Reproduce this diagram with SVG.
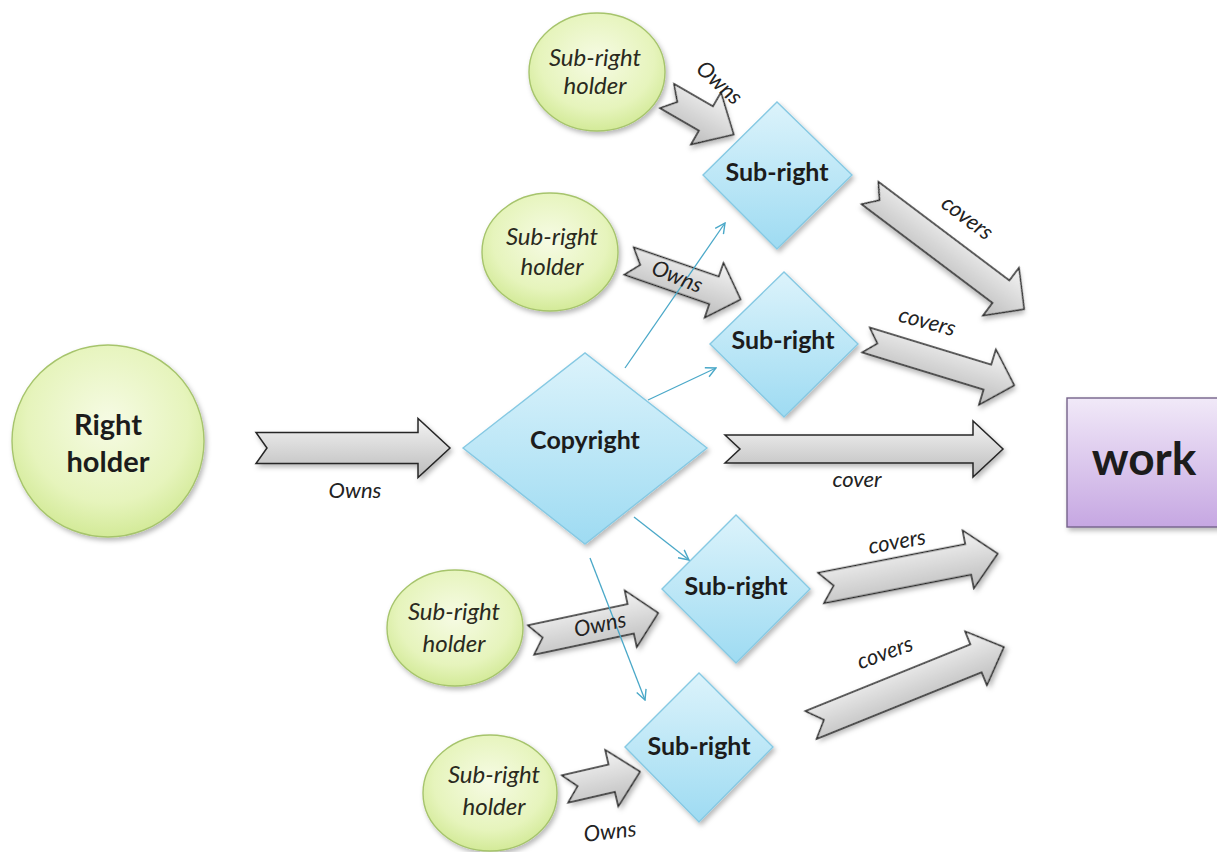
<svg xmlns="http://www.w3.org/2000/svg" width="1217" height="852" viewBox="0 0 1217 852">
<defs>
  <radialGradient id="gGreen" cx="50%" cy="40%" r="60%">
    <stop offset="0" stop-color="#f6fbe4"/>
    <stop offset="0.7" stop-color="#e6f4bc"/>
    <stop offset="1" stop-color="#d3ea98"/>
  </radialGradient>
  <linearGradient id="gBlue" x1="0" y1="0" x2="0" y2="1">
    <stop offset="0" stop-color="#dcf3fb"/>
    <stop offset="1" stop-color="#9edbf2"/>
  </linearGradient>
  <linearGradient id="gPurple" x1="0" y1="0" x2="0" y2="1">
    <stop offset="0" stop-color="#f1e9f8"/>
    <stop offset="1" stop-color="#c6a7e2"/>
  </linearGradient>
  <linearGradient id="gGray" x1="0" y1="0" x2="0" y2="1">
    <stop offset="0" stop-color="#f4f4f4"/>
    <stop offset="1" stop-color="#bcbcbc"/>
  </linearGradient>
  <filter id="shadow" x="-20%" y="-20%" width="150%" height="150%">
    <feDropShadow dx="2" dy="3" stdDeviation="2.5" flood-color="#000" flood-opacity="0.28"/>
  </filter>
  <marker id="vHead" viewBox="0 0 12 12" refX="11" refY="6" markerWidth="12" markerHeight="12" markerUnits="userSpaceOnUse" orient="auto">
    <path d="M1,1 L11,6 L1,11" fill="none" stroke="#4aa8c8" stroke-width="1.4"/>
  </marker>
  <style>
    .holder { fill: url(#gGreen); stroke: #a6c46c; stroke-width: 1.4; filter: url(#shadow); }
    .dia { fill: url(#gBlue); stroke: #86c9e3; stroke-width: 1.4; filter: url(#shadow); }
    .box { fill: url(#gPurple); stroke: #74628a; stroke-width: 1.4; filter: url(#shadow); }
    .blk { fill: url(#gGray); stroke: #262626; stroke-width: 1.5; stroke-linejoin: miter; filter: url(#shadow); }
    .thin { fill: none; stroke: #4aa8c8; stroke-width: 1.3; marker-end: url(#vHead); }
    .bold { font-family: Lato, "Liberation Sans", sans-serif; font-weight: bold; fill: #1c1c1c; text-anchor: middle; }
    .ital { font-family: Lato, "Liberation Sans", sans-serif; font-style: italic; fill: #2a2a20; text-anchor: middle; }
    .lbl { font-family: Lato, "Liberation Sans", sans-serif; font-style: italic; fill: #222; text-anchor: middle; font-size: 22px; }
  </style>
</defs>
<rect width="1217" height="852" fill="#ffffff"/>

<g id="right-holder">
  <circle class="holder" cx="108" cy="441" r="96"/>
  <text class="bold" x="108" y="435" font-size="29">Right</text>
  <text class="bold" x="108" y="472" font-size="29">holder</text>
</g>

<g id="copyright">
  <polygon class="dia" points="463,448 585,353 707,448 585,544"/>
  <text class="bold" x="585" y="449" font-size="25">Copyright</text>
</g>

<g id="work">
  <rect class="box" x="1067" y="398" width="160" height="129"/>
  <text class="bold" x="1144" y="475" font-size="46">work</text>
</g>

<g id="subright-1">
  <polygon class="dia" points="703,175 777,102 852,175 777,249"/>
  <text class="bold" x="777" y="181" font-size="25">Sub-right</text>
</g>
<g id="subright-2">
  <polygon class="dia" points="710,344 784,272 858,344 784,417"/>
  <text class="bold" x="783" y="349" font-size="25">Sub-right</text>
</g>
<g id="subright-3">
  <polygon class="dia" points="662,589 736,515 810,589 736,663"/>
  <text class="bold" x="736" y="595" font-size="25">Sub-right</text>
</g>
<g id="subright-4">
  <polygon class="dia" points="625,747 699,673 773,747 699,822"/>
  <text class="bold" x="699" y="755" font-size="25">Sub-right</text>
</g>

<g id="holder-1">
  <ellipse class="holder" cx="597" cy="72" rx="68" ry="59"/>
  <text class="ital" x="595" y="66" font-size="24">Sub-right</text>
  <text class="ital" x="595" y="94" font-size="24">holder</text>
</g>
<g id="holder-2">
  <ellipse class="holder" cx="550" cy="252" rx="68" ry="59"/>
  <text class="ital" x="552" y="245" font-size="24">Sub-right</text>
  <text class="ital" x="552" y="275" font-size="24">holder</text>
</g>
<g id="holder-3">
  <ellipse class="holder" cx="455" cy="628" rx="68" ry="58"/>
  <text class="ital" x="454" y="620" font-size="24">Sub-right</text>
  <text class="ital" x="454" y="652" font-size="24">holder</text>
</g>
<g id="holder-4">
  <ellipse class="holder" cx="490" cy="793" rx="67" ry="58"/>
  <text class="ital" x="494" y="783" font-size="24">Sub-right</text>
  <text class="ital" x="494" y="815" font-size="24">holder</text>
</g>

<g id="connectors">
  <g transform="translate(256,448)"><path class="blk" d="M0,-15.5 H162 V-29.5 L194,0 L162,29.5 V15.5 H0 L11,0 Z"/></g>
  <g transform="translate(725,449)"><path class="blk" d="M0,-14 H248 V-28 L278,0 L248,28 V14 H0 L15,0 Z"/></g>
  <g transform="translate(667,96) rotate(30)"><path class="blk" d="M0,-14 H45 V-30 L77,0 L45,30 V14 H0 L12,0 Z"/></g>
  <g transform="translate(629,261) rotate(19)"><path class="blk" d="M0,-14.5 H90 V-29 L118,0 L90,29 V14.5 H0 L12,0 Z"/></g>
  <g transform="translate(531,640) rotate(-12)"><path class="blk" d="M0,-15 H102 V-29 L130,0 L102,29 V15 H0 L12,0 Z"/></g>
  <g transform="translate(565,789) rotate(-13)"><path class="blk" d="M0,-14 H48 V-29 L77,0 L48,29 V14 H0 L13,0 Z"/></g>
  <g transform="translate(870,193) rotate(37)"><path class="blk" d="M0,-14 H164 V-30 L193,0 L164,30 V14 H0 L12,0 Z"/></g>
  <g transform="translate(866,340) rotate(17)"><path class="blk" d="M0,-13 H127 V-29 L155,0 L127,29 V13 H0 L12,0 Z"/></g>
  <g transform="translate(821,588) rotate(-11)"><path class="blk" d="M0,-15.5 H150 V-29.5 L180,0 L150,29.5 V15.5 H0 L13,0 Z"/></g>
  <g transform="translate(811,725) rotate(-22)"><path class="blk" d="M0,-15 H178 V-29 L208,0 L178,29 V15 H0 L14,0 Z"/></g>

  <line class="thin" x1="625" y1="368" x2="725" y2="223"/>
  <line class="thin" x1="648" y1="400" x2="716" y2="368"/>
  <line class="thin" x1="634" y1="517" x2="689" y2="560"/>
  <line class="thin" x1="590" y1="558" x2="645" y2="700"/>

  <text class="lbl" x="355" y="498">Owns</text>
  <text class="lbl" x="857" y="487">cover</text>
  <text class="lbl" transform="translate(719,83) rotate(42)" y="7">Owns</text>
  <text class="lbl" transform="translate(677,277) rotate(22)" y="7">Owns</text>
  <text class="lbl" transform="translate(600,625) rotate(-12)" y="7">Owns</text>
  <text class="lbl" transform="translate(610,832) rotate(-6)" y="7">Owns</text>
  <text class="lbl" transform="translate(967,218) rotate(37)" y="7">covers</text>
  <text class="lbl" transform="translate(927,322) rotate(15)" y="7">covers</text>
  <text class="lbl" transform="translate(897,542) rotate(-10)" y="7">covers</text>
  <text class="lbl" transform="translate(885,653) rotate(-20)" y="7">covers</text>
</g>
</svg>
